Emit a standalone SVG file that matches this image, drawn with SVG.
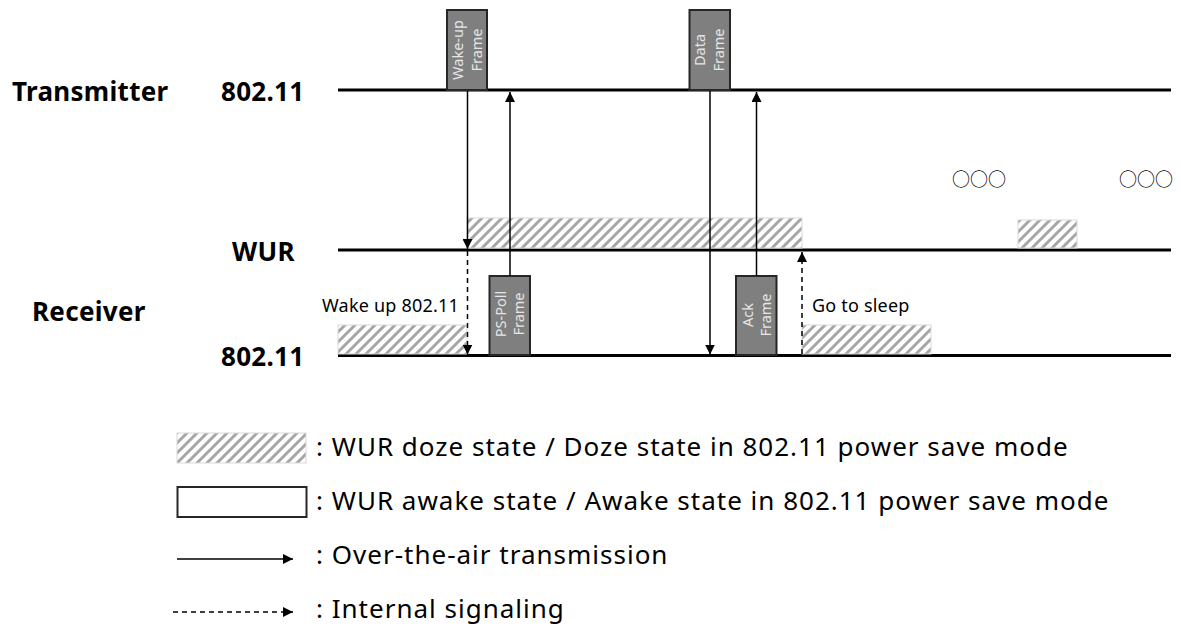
<svg xmlns="http://www.w3.org/2000/svg" width="1181" height="626" viewBox="0 0 1181 626">
<defs>
<pattern id="hatch" patternUnits="userSpaceOnUse" width="10" height="10">
<rect width="10" height="10" fill="#fff"/>
<path d="M0,10 L10,0 M-2,2 L2,-2 M8,12 L12,8" stroke="#a6a6a6" stroke-width="3"/>
</pattern>
<marker id="ah" viewBox="0 0 10 10" refX="10" refY="5" markerWidth="10" markerHeight="10" markerUnits="userSpaceOnUse" orient="auto">
<path d="M0,0 L10,5 L0,10 Z" fill="#000"/>
</marker>
</defs>
<style>
.lbl{font-family:"Noto Sans","Open Sans",sans-serif;font-weight:bold;font-size:26px;letter-spacing:0.3px;fill:#000}
.axis{stroke:#000;stroke-width:3}
.hatch{fill:url(#hatch);stroke:#d9d9d9;stroke-width:1}
.frame{fill:#7f7f7f;stroke:#262626;stroke-width:2}
.ftxt{font-family:"Noto Sans","Open Sans",sans-serif;font-size:14.5px;fill:#e6e6e6;text-anchor:middle}
.note{font-family:"Noto Sans","Open Sans",sans-serif;font-size:18px;letter-spacing:0.2px;fill:#000}
.leg{font-family:"Noto Sans","Open Sans",sans-serif;font-size:26px;letter-spacing:1px;fill:#000}
.air{stroke:#000;stroke-width:1.5;fill:none;marker-end:url(#ah)}
.int{stroke:#000;stroke-width:1.5;fill:none;stroke-dasharray:5 4;marker-end:url(#ah)}
.dots{font-family:"Noto Sans CJK KR",sans-serif;font-size:18px;fill:#000}
</style>

<g id="labels">
<text class="lbl" x="12" y="101">Transmitter</text>
<text class="lbl" x="221" y="101">802.11</text>
<text class="lbl" x="232" y="261">WUR</text>
<text class="lbl" x="32" y="321">Receiver</text>
<text class="lbl" x="221" y="366">802.11</text>
</g>

<g id="timelines">
<line class="axis" x1="338" y1="90" x2="1171" y2="90"/>
<line class="axis" x1="338" y1="250" x2="1171" y2="250"/>
<line class="axis" x1="338" y1="355.5" x2="1171" y2="355.5"/>
</g>

<g id="doze-states">
<rect class="hatch" x="467" y="218" width="335" height="30"/>
<rect class="hatch" x="338" y="325" width="129" height="29"/>
<rect class="hatch" x="802" y="325" width="129" height="29"/>
<rect class="hatch" x="1018" y="220" width="59" height="28"/>
</g>

<g id="wakeup-frame">
<rect class="frame" x="447" y="10" width="40" height="80"/>
<text class="ftxt" transform="translate(467,50) rotate(-90)"><tspan x="0" y="-4">Wake-up</tspan><tspan x="0" y="14.5">Frame</tspan></text>
</g>
<g id="data-frame">
<rect class="frame" x="689.5" y="10" width="40.5" height="80"/>
<text class="ftxt" transform="translate(710,50) rotate(-90)"><tspan x="0" y="-5">Data</tspan><tspan x="0" y="14">Frame</tspan></text>
</g>
<g id="pspoll-frame">
<rect class="frame" x="489.5" y="276" width="40.5" height="79"/>
<text class="ftxt" transform="translate(510,314) rotate(-90)"><tspan x="0" y="-4">PS-Poll</tspan><tspan x="0" y="14">Frame</tspan></text>
</g>
<g id="ack-frame">
<rect class="frame" x="736" y="276" width="40.5" height="79"/>
<text class="ftxt" transform="translate(756.5,315) rotate(-90)"><tspan x="0" y="-4">Ack</tspan><tspan x="0" y="14.5">Frame</tspan></text>
</g>

<g id="connectors">
<line class="air" x1="467.5" y1="91" x2="467.5" y2="249"/>
<line class="int" x1="467.5" y1="251" x2="467.5" y2="354.5"/>
<line class="air" x1="510" y1="276" x2="510" y2="92"/>
<line class="air" x1="710" y1="91" x2="710" y2="354.5"/>
<line class="air" x1="756.5" y1="276" x2="756.5" y2="92"/>
<line class="int" x1="802" y1="354" x2="802" y2="252"/>
</g>

<g id="notes">
<text class="note" x="322" y="312">Wake up 802.11</text>
<text class="note" x="812" y="312">Go to sleep</text>
<text class="dots" x="952" y="186">○○○</text>
<text class="dots" x="1119" y="186">○○○</text>
</g>

<g id="legend">
<rect class="hatch" x="177" y="433" width="129" height="30"/>
<rect x="177.5" y="487" width="129" height="30" fill="#fff" stroke="#262626" stroke-width="2"/>
<line class="air" x1="177" y1="559" x2="293" y2="559"/>
<line class="int" x1="173" y1="612" x2="293" y2="612"/>
<text class="leg" x="316" y="456">: WUR doze state / Doze state in 802.11 power save mode</text>
<text class="leg" x="316" y="510">: WUR awake state / Awake state in 802.11 power save mode</text>
<text class="leg" x="316" y="564">: Over-the-air transmission</text>
<text class="leg" x="316" y="618">: Internal signaling</text>
</g>
</svg>
